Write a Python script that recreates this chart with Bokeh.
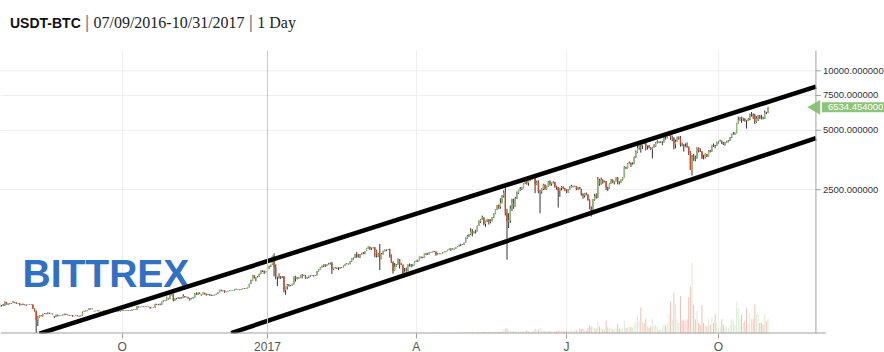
import math
import datetime as dt
from bokeh.plotting import figure
from bokeh.layouts import column
from bokeh.models import (Range1d, LinearScale, FixedTicker, Span, Label, ColumnDataSource, Div)
from bokeh.core.properties import value
from bokeh.embed import file_html
from bokeh.resources import INLINE

# ---------------- data ----------------
START_DATE = "2016-07-09"
FIRST_OPEN = 658.0
LAST_PRICE = 6534.454
# days with no candle in the exchange history (2016 thin market)
SKIPPED_DAYS = ["2016-07-17", "2016-07-24", "2016-08-07", "2016-08-14", "2016-08-21",
                "2016-08-28", "2016-09-04", "2016-09-11", "2016-09-18", "2016-09-25",
                "2016-10-09", "2016-10-30", "2016-11-20", "2016-12-11"]

close_2016_07 = [650.6, 649.4, 647.7, 675.0, 657.1, 660.3, 665.1, 663.3, 679.5, 673.1, 672.9, 665.7,
                 665.6, 650.6, 655.6, 661.3, 654.1, 654.6, 654.5, 655.0, 656.0, 655.1, 624.7]
high_2016_07 = [666, 652, 660, 680, 676, 664, 668, 666, 681, 680, 674, 673, 667, 666, 657, 662, 662,
                657, 657, 656, 657, 657, 656]
low_2016_07 = [633, 640, 645, 645, 656, 652, 658, 660, 661, 668, 666, 662, 661, 649, 650, 654, 653,
               650, 646, 653, 653, 652, 624]

close_2016_08 = [606.3, 547.5, 566.4, 578.3, 575.0, 587.8, 592.7, 591.1, 587.8, 592.1, 589.2, 587.6,
                 585.6, 570.5, 567.2, 581.3, 573.2, 574.3, 575.6, 581.7, 581.3, 586.8, 583.4, 580.2,
                 577.8, 579.7, 569.9, 573.9, 574.1, 577.5, 573.2]
high_2016_08 = [627, 612, 575, 580, 578, 589, 597, 593, 591, 598, 597, 590, 590, 586, 574, 583, 582,
                578, 577, 583, 583, 590, 590, 583, 581, 580, 580, 575, 575, 578, 577]
low_2016_08 = [605, 470, 510, 563, 571, 569, 585, 588, 585, 586, 588, 586, 584, 568, 560, 566, 571,
               573, 573, 575, 580, 579, 582, 580, 575, 577, 569, 568, 572, 573, 572]

close_2016_09 = [572.3, 575.5, 598.2, 608.6, 606.6, 610.4, 614.5, 626.3, 623.0, 623.9, 606.7, 608.2,
                 609.2, 610.7, 607.2, 606.9, 605.6, 611.6, 610.2, 608.7, 597.2, 596.3, 602.8, 602.6,
                 600.8, 608.0, 606.2, 604.7, 605.7, 609.7]
high_2016_09 = [576, 577, 604, 612, 609, 612, 615, 628, 626, 626, 625, 609, 610, 612, 611, 609, 607,
                612, 612, 610, 610, 598, 604, 604, 604, 609, 608, 606, 607, 610]
low_2016_09 = [569, 571, 574, 596, 603, 605, 607, 614, 619, 620, 583, 605, 606, 606, 606, 605, 604,
               605, 608, 605, 590, 593, 596, 601, 600, 600, 604, 603, 603, 604]

close_2016_10 = [613.9, 610.9, 612.1, 610.2, 612.5, 610.2, 616.8, 618.9, 616.8, 618.0, 641.1, 636.2,
                 636.8, 640.4, 638.7, 641.6, 639.2, 637.6, 630.5, 630.9, 632.8, 657.3, 657.1, 653.8,
                 654.5, 677.8, 688.3, 688.7, 714.5, 701.9, 701.0]
high_2016_10 = [615, 614, 613, 613, 614, 613, 619, 621, 620, 620, 644, 641, 639, 641, 641, 642, 642,
                640, 638, 632, 634, 662, 661, 658, 664, 679, 690, 691, 720, 716, 705]
low_2016_10 = [609, 609, 609, 608, 609, 609, 610, 616, 615, 615, 615, 633, 634, 636, 636, 637, 638,
               636, 625, 628, 630, 632, 652, 650, 650, 651, 675, 683, 686, 695, 694]

close_2016_11 = [729.8, 740.8, 688.7, 703.2, 703.7, 711.5, 703.1, 709.9, 723.3, 715.5, 716.4, 705.1,
                 702.0, 705.0, 711.6, 744.2, 740.3, 751.3, 751.6, 731.0, 739.2, 751.3, 741.7, 735.4,
                 740.0, 732.0, 727.0, 732.5, 735.1, 742.5]
high_2016_11 = [736, 743, 744, 706, 707, 714, 712, 714, 740, 722, 718, 717, 706, 707, 716, 748, 756,
                753, 756, 753, 741, 755, 752, 745, 742, 741, 736, 734, 736, 743]
low_2016_11 = [699, 729, 680, 685, 697, 701, 700, 705, 706, 710, 712, 703, 686, 697, 702, 711, 734,
               733, 741, 722, 726, 738, 736, 727, 733, 728, 725, 727, 729, 733]

close_2016_12 = [756.8, 777.9, 771.2, 773.9, 758.7, 764.2, 768.1, 770.8, 772.8, 774.7, 769.7, 780.1,
                 780.6, 781.6, 778.1, 784.9, 790.8, 790.8, 792.7, 800.9, 834.3, 864.5, 922.0, 898.8,
                 896.2, 907.6, 933.2, 975.9, 973.5, 961.2, 963.7]
high_2016_12 = [758, 779, 778, 775, 774, 765, 769, 773, 773, 776, 775, 781, 789, 782, 783, 786, 792,
                794, 793, 802, 835, 875, 925, 922, 900, 914, 941, 976, 977, 972, 965]
low_2016_12 = [742, 757, 764, 765, 752, 757, 762, 766, 768, 771, 765, 769, 778, 776, 776, 777, 783,
               786, 787, 791, 800, 832, 864, 887, 860, 897, 904, 935, 958, 935, 952]

close_2017_01 = [998.3, 1021.8, 1043.8, 1154.7, 1013.4, 902.2, 908.6, 911.2, 902.8, 907.7, 777.8,
                 804.8, 824.0, 818.4, 821.8, 831.5, 907.9, 886.6, 899.7, 895.0, 921.8, 924.7, 921.0,
                 892.7, 901.5, 917.6, 919.8, 921.4, 914.0, 920.2, 970.4]
high_2017_01 = [1001, 1031, 1044, 1159, 1191, 1046, 909, 942, 914, 913, 914, 809, 833, 834, 823, 836,
                909, 917, 905, 900, 927, 936, 928, 925, 903, 918, 922, 923, 920, 923, 970]
low_2017_01 = [956, 991, 1015, 1040, 910, 880, 813, 886, 882, 894, 755, 735, 782, 809, 812, 817, 829,
               857, 880, 886, 893, 888, 919, 885, 885, 892, 908, 915, 908, 914, 919]

close_2017_02 = [989, 1011, 1029, 1046, 1028, 1046, 1054, 1054, 988, 1004, 1007, 999, 996, 1009, 1011,
                 1031, 1052, 1054, 1056, 1087, 1120, 1128, 1179, 1180, 1148, 1176, 1188, 1190]
high_2017_02 = [992, 1013, 1034, 1050, 1047, 1048, 1065, 1070, 1077, 1007, 1016, 1010, 1011, 1015,
                1014, 1034, 1055, 1064, 1057, 1088, 1124, 1134, 1183, 1211, 1179, 1180, 1197, 1210]
low_2017_02 = [963, 985, 1008, 1016, 1016, 1026, 1045, 1044, 936, 979, 999, 994, 981, 995, 1004, 1010,
               1029, 1048, 1044, 1048, 1078, 1105, 1129, 1130, 1134, 1128, 1174, 1178]

close_2017_03 = [1223, 1261, 1286, 1264, 1273, 1276, 1234, 1150, 1192, 1110, 1182, 1225, 1244, 1245,
                 1251, 1173, 1070, 971, 1021, 1042, 1115, 1038, 1044, 936, 964, 966, 1044, 1044, 1040,
                 1037, 1079]
high_2017_03 = [1224, 1263, 1290, 1286, 1276, 1278, 1281, 1242, 1199, 1329, 1193, 1230, 1245, 1246,
                1253, 1256, 1174, 1086, 1064, 1052, 1122, 1115, 1063, 1042, 1003, 1009, 1047, 1058,
                1053, 1049, 1084]
low_2017_03 = [1179, 1222, 1257, 1238, 1238, 1262, 1138, 1135, 1140, 980, 1112, 1172, 1218, 1220, 1240,
               1133, 1066, 940, 970, 1015, 1043, 997, 1037, 932, 900, 961, 966, 1021, 1012, 1022, 1037]

close_2017_04 = [1087, 1099, 1146, 1143, 1134, 1194, 1196, 1181, 1207, 1209, 1223, 1216, 1177, 1181,
                 1186, 1185, 1205, 1211, 1222, 1240, 1256, 1251, 1258, 1257, 1280, 1289, 1317, 1317,
                 1321, 1348]
high_2017_04 = [1097, 1106, 1148, 1148, 1143, 1195, 1197, 1198, 1209, 1212, 1224, 1217, 1216, 1193,
                1194, 1189, 1208, 1215, 1224, 1242, 1259, 1264, 1262, 1261, 1282, 1294, 1317, 1331,
                1323, 1350]
low_2017_04 = [1077, 1075, 1096, 1121, 1124, 1133, 1165, 1170, 1175, 1198, 1204, 1208, 1158, 1172,
               1183, 1178, 1180, 1204, 1206, 1221, 1237, 1225, 1245, 1241, 1253, 1280, 1288, 1295,
               1310, 1315]

close_2017_05 = [1421, 1452, 1490, 1537, 1508, 1535, 1535, 1641, 1727, 1756, 1808, 1676, 1730, 1772,
                 1719, 1739, 1806, 1889, 1987, 2084, 2041, 2150, 2330, 2420, 1900, 1720, 1750, 2000,
                 2150, 2050, 2250]
high_2017_05 = [1434, 1473, 1492, 1597, 1580, 1540, 1567, 1645, 1749, 1772, 1849, 1811, 1742, 1780,
                1772, 1770, 1820, 1900, 1990, 2090, 2106, 2260, 2350, 2480, 2570, 2000, 1900, 2080,
                2250, 2250, 2300]
low_2017_05 = [1348, 1411, 1441, 1475, 1450, 1500, 1500, 1535, 1640, 1700, 1755, 1650, 1623, 1715,
               1665, 1690, 1725, 1795, 1880, 1970, 2000, 2000, 2130, 2280, 1850, 1106, 1600, 1700,
               1950, 2000, 2050]

close_2017_06 = [2400, 2490, 2515, 2550, 2690, 2869, 2700, 2793, 2812, 2907, 2958, 2660, 2720, 2450,
                 2450, 2520, 2650, 2520, 2600, 2740, 2680, 2710, 2730, 2600, 2560, 2470, 2550, 2590,
                 2540, 2480]
high_2017_06 = [2450, 2500, 2580, 2575, 2700, 2900, 2890, 2800, 2830, 2920, 2970, 2980, 2780, 2790,
                2500, 2540, 2680, 2660, 2620, 2770, 2790, 2720, 2760, 2740, 2620, 2580, 2560, 2600,
                2600, 2550]
low_2017_06 = [2250, 2380, 2470, 2490, 2540, 2670, 2650, 2620, 2760, 2810, 2870, 2400, 2640, 2400,
               1900, 2390, 2490, 2500, 2500, 2590, 2620, 2620, 2690, 2560, 2500, 2030, 2300, 2480,
               2520, 2470]

close_2017_07 = [2434, 2507, 2564, 2601, 2601, 2608, 2518, 2571, 2518, 2373, 2337, 2398, 2357, 2233,
                 1998, 1929, 2228, 2318, 2273, 2817, 2667, 2810, 2730, 2754, 2576, 2529, 2671, 2809,
                 2726, 2757, 2875]
high_2017_07 = [2510, 2520, 2600, 2650, 2620, 2620, 2610, 2580, 2580, 2530, 2400, 2410, 2420, 2370,
                2240, 2060, 2240, 2380, 2400, 2900, 2840, 2880, 2820, 2780, 2770, 2590, 2690, 2830,
                2820, 2770, 2890]
low_2017_07 = [2410, 2410, 2500, 2560, 2570, 2590, 2490, 2490, 2510, 2330, 2250, 2280, 2340, 2200,
               1990, 1830, 1930, 2200, 2250, 2270, 2620, 2650, 2680, 2720, 2490, 2460, 2520, 2670,
               2700, 2660, 2750]

close_2017_08 = [2718, 2710, 2804, 2895, 3252, 3213, 3378, 3419, 3342, 3381, 3650, 3884, 4073, 4325,
                 4181, 4376, 4331, 4160, 4193, 4087, 4001, 4100, 4151, 4334, 4371, 4352, 4382, 4382,
                 4579, 4565, 4703]
high_2017_08 = [2900, 2760, 2820, 2900, 3290, 3270, 3400, 3480, 3430, 3440, 3680, 3950, 4200, 4330,
                4430, 4400, 4480, 4370, 4210, 4200, 4100, 4120, 4250, 4360, 4450, 4380, 4410, 4400,
                4620, 4640, 4750]
low_2017_08 = [2660, 2660, 2710, 2780, 2880, 3180, 3200, 3370, 3260, 3330, 3370, 3620, 3850, 3980,
               3850, 4020, 4250, 3950, 3990, 4050, 3970, 3600, 4080, 4120, 4290, 4300, 4320, 4200,
               4330, 4480, 4540]

close_2017_09 = [4892, 4579, 4582, 4236, 4376, 4597, 4599, 4229, 4226, 4122, 4161, 4130, 3882, 3155,
                 3637, 3625, 3582, 4066, 3925, 3905, 3631, 3630, 3792, 3682, 3926, 3892, 4209, 4195,
                 4174, 4339]
high_2017_09 = [4920, 4930, 4700, 4600, 4480, 4640, 4660, 4670, 4330, 4250, 4290, 4340, 4130, 3920,
                3750, 3800, 3720, 4100, 4090, 4050, 3920, 3760, 3820, 3780, 3960, 3980, 4220, 4280,
                4220, 4370]
low_2017_09 = [4690, 4470, 4400, 4000, 4050, 4380, 4480, 4130, 4150, 3900, 4100, 4070, 3750, 3150,
               2950, 3500, 3480, 3580, 3860, 3880, 3580, 3560, 3600, 3660, 3680, 3860, 3890, 4120,
               4050, 4160]

close_2017_10 = [4403, 4409, 4317, 4229, 4328, 4370, 4426, 4611, 4772, 4781, 4826, 5447, 5647, 5831,
                 5678, 5725, 5605, 5590, 5708, 6011, 6031, 5930, 5527, 5750, 5904, 5780, 5753, 5726,
                 6155, 6130, LAST_PRICE]
high_2017_10 = [4420, 4480, 4440, 4360, 4360, 4420, 4460, 4620, 4800, 4900, 4870, 5450, 5860, 5840,
                5860, 5780, 5750, 5620, 5760, 6070, 6180, 6090, 6050, 5890, 5970, 5980, 5990, 5860,
                6300, 6200, 6560]
low_2017_10 = [4280, 4380, 4260, 4210, 4180, 4310, 4340, 4410, 4560, 4740, 4740, 4820, 5400, 5580,
               5450, 5570, 5520, 5100, 5560, 5620, 5860, 5700, 5380, 5450, 5570, 5700, 5670, 5680,
               5700, 6030, 6100]

# volume (million USDT), from 2017-04-01
VOLUME_START = "2017-04-01"
vol_2017_04 = [0.1, 0.1, 0.2, 0.1, 0.1, 0.2, 0.1, 0.1, 0.1, 0.1, 0.2, 0.1, 0.2, 0.1, 0.1, 0.1, 0.1,
               0.1, 0.2, 0.2, 0.2, 0.1, 0.1, 0.1, 0.2, 0.2, 0.3, 0.3, 0.2, 0.2]
vol_2017_05 = [0.3, 0.3, 0.3, 0.4, 0.4, 0.3, 0.3, 0.4, 0.5, 0.4, 0.5, 0.5, 0.4, 0.3, 0.4, 0.3, 0.4,
               0.5, 0.5, 0.5, 0.5, 0.6, 0.8, 0.9, 1.4, 1.5, 1.0, 0.8, 0.7, 0.6, 0.7]
vol_2017_06 = [0.6, 0.5, 0.5, 0.5, 0.6, 0.8, 0.9, 0.7, 0.6, 0.6, 0.7, 1.2, 1.0, 1.2, 1.5, 0.9, 0.8,
               0.7, 0.6, 0.8, 0.8, 0.6, 0.5, 0.6, 0.6, 0.9, 1.0, 0.8, 0.7, 0.6]
vol_2017_07 = [0.8, 0.6, 0.8, 0.9, 0.7, 1.1, 0.9, 0.6, 1.4, 1.2, 1.3, 1.0, 0.8, 1.5, 2.3, 2.0, 1.8,
               1.5, 1.4, 3.7, 2.0, 1.6, 1.2, 1.1, 3.7, 1.8, 1.5, 1.6, 1.2, 1.0, 1.4]
vol_2017_08 = [2.8, 1.4, 1.3, 1.6, 3.7, 1.6, 1.8, 2.0, 1.9, 1.7, 2.5, 3.4, 4.8, 3.6, 7.4, 3.2, 3.0,
               4.2, 2.2, 1.6, 2.0, 4.2, 2.2, 2.4, 1.9, 1.0, 1.1, 1.8, 2.6, 2.2, 2.8]
vol_2017_09 = [5.6, 9.0, 4.0, 11.6, 8.5, 4.0, 3.0, 10.5, 3.5, 4.0, 3.5, 4.0, 10.2, 13.3, 20.1, 8.2,
               4.0, 6.5, 3.0, 2.5, 7.9, 3.0, 2.5, 2.0, 4.2, 2.5, 4.5, 3.0, 5.4, 3.0]
vol_2017_10 = [1.5, 2.0, 4.0, 2.5, 2.0, 1.8, 1.5, 2.5, 4.0, 4.0, 2.5, 9.0, 7.1, 4.0, 5.4, 3.0, 3.5,
               7.1, 3.0, 5.7, 4.2, 4.2, 8.2, 5.4, 5.7, 3.0, 3.0, 2.5, 5.4, 3.4, 4.2]

TICK_DATES = ["2016-10-01", "2017-01-01", "2017-04-01", "2017-07-01", "2017-10-01"]
TICK_LABELS = ["O", "2017", "A", "J", "O"]
PRICE_TICKS = [2500, 5000, 7500, 10000]
PRICE_AXIS_DATE = "2017-11-29"   # where the price scale sits

# hand-drawn channel lines (date, price) pairs
UPPER_LINE_DATES = ["2016-08-04", "2017-11-29"]
UPPER_LINE_PRICES = [467, 8310]
LOWER_LINE_DATES = ["2016-12-09", "2017-11-29"]
LOWER_LINE_PRICES = [470, 4567]

TITLE_SYMBOL = "USDT-BTC"
TITLE_RANGE = "07/09/2016-10/31/2017"
TITLE_INTERVAL = "1 Day"

# ---------------- assemble ----------------
months = ["2016_07", "2016_08", "2016_09", "2016_10", "2016_11", "2016_12", "2017_01", "2017_02",
          "2017_03", "2017_04", "2017_05", "2017_06", "2017_07", "2017_08", "2017_09", "2017_10"]
g = globals()
closes, highs, lows = [], [], []
for m in months:
    closes += g["close_" + m]
    highs += g["high_" + m]
    lows += g["low_" + m]
start = dt.date.fromisoformat(START_DATE)
days = [start + dt.timedelta(days=k) for k in range(len(closes))]
opens = [FIRST_OPEN] + closes[:-1]
skip = set(SKIPPED_DAYS)
rows = [r for r in zip(days, opens, highs, lows, closes) if r[0].isoformat() not in skip]
dates = [r[0] for r in rows]
O = [r[1] for r in rows]
C = [r[4] for r in rows]
H = [max(r[2], r[1], r[4]) for r in rows]
L = [min(r[3], r[1], r[4]) for r in rows]
X = list(range(len(rows)))
date_index = {d.isoformat(): i for i, d in enumerate(dates)}


def to_index(s):
    if s in date_index:
        return date_index[s]
    d = dt.date.fromisoformat(s)
    return len(dates) - 1 + (d - dates[-1]).days


UP = "#8cc173"
DOWN = "#d9431f"
up_flags = [c >= o for o, c in zip(O, C)]
src = ColumnDataSource(dict(
    x=X, high=H, low=L,
    top=[max(o, c) for o, c in zip(O, C)],
    bottom=[min(o, c) for o, c in zip(O, C)],
    color=[UP if u else DOWN for u in up_flags],
))

vols = vol_2017_04 + vol_2017_05 + vol_2017_06 + vol_2017_07 + vol_2017_08 + vol_2017_09 + vol_2017_10
v0 = to_index(VOLUME_START)
vx = [v0 + k for k in range(len(vols))]
vsrc = ColumnDataSource(dict(
    x=vx, top=vols,
    color=["#dcebd3" if up_flags[i] else "#f1bfb4" for i in vx],
))

# ---------------- figure ----------------
FRAME_W, FRAME_H = 884, 283
X_START, PX_PER_CANDLE = 0.4, 1.652
Y_MIN, Y_MAX = 467.8, 12667
axis_x = to_index(PRICE_AXIS_DATE)

p = figure(frame_width=FRAME_W, frame_height=FRAME_H,
           x_range=Range1d(X_START, X_START + FRAME_W / PX_PER_CANDLE),
           y_range=Range1d(Y_MIN, Y_MAX),
           y_axis_type="log", y_axis_location=None,
           toolbar_location=None, output_backend="svg", title=None,
           min_border=0, background_fill_color="white", border_fill_color="white")
p.outline_line_color = None
p.extra_y_ranges = {"vol": Range1d(0, 80)}
p.extra_y_scales = {"vol": LinearScale()}

tick_idx = [to_index(d) for d in TICK_DATES]
p.xaxis.ticker = FixedTicker(ticks=tick_idx)
p.xaxis.major_label_overrides = {i: lab for i, lab in zip(tick_idx, TICK_LABELS)}
p.xaxis.axis_line_color = None
p.xaxis.major_tick_line_color = "#a0a0a0"
p.xaxis.major_tick_out = 5
p.xaxis.major_tick_in = 0
p.xaxis.minor_tick_line_color = None
p.xaxis.major_label_text_font = "Liberation Sans"
p.xaxis.major_label_text_font_size = "12px"
p.xaxis.major_label_text_color = "#555555"
p.xaxis.major_label_standoff = 1

p.xgrid.grid_line_color = "#eeeeee"
for gr in p.ygrid:
    gr.visible = False

# horizontal price grid (stops at the price scale)
p.segment(x0=X_START, x1=axis_x, y0=PRICE_TICKS, y1=PRICE_TICKS, line_color="#eeeeee", line_width=1)
p.add_layout(Span(location=to_index("2017-01-01"), dimension="height",
                  line_color="#c8c8c8", line_width=1))

# logo (behind the data)
p.add_layout(Label(x=22, y=39, x_units="screen", y_units="screen", text="BITTREX",
                   text_font="Liberation Sans", text_font_style="bold", text_font_size="39px",
                   text_color="#3170c2", level="underlay"))

# volume
p.vbar(x="x", top="top", bottom=0, width=0.6, source=vsrc, y_range_name="vol",
       fill_color="color", line_color=None)

# candles
p.segment(x0="x", y0="low", x1="x", y1="high", source=src, line_color="#333333", line_width=1)
p.vbar(x="x", width=0.8, top="top", bottom="bottom", source=src,
       fill_color="color", line_color=None)

# channel lines
p.line([to_index(d) for d in UPPER_LINE_DATES], UPPER_LINE_PRICES, line_color="black",
       line_width=4.5)
p.line([to_index(d) for d in LOWER_LINE_DATES], LOWER_LINE_PRICES, line_color="black",
       line_width=4.5)

# bottom axis line and right price scale
p.segment(x0=X_START, x1=axis_x + 6, y0=Y_MIN, y1=Y_MIN, line_color="#a0a0a0", line_width=2)
p.add_layout(Span(location=axis_x, dimension="height", line_color="#a0a0a0", line_width=1))
p.ray(x=[axis_x] * len(PRICE_TICKS), y=PRICE_TICKS, length=5, length_units="screen", angle=0,
      line_color="#a0a0a0", line_width=1)
p.text(x=[axis_x] * len(PRICE_TICKS), y=PRICE_TICKS, text=["%.6f" % t for t in PRICE_TICKS],
       x_offset=7, text_baseline="middle", text_align="left",
       text_font=value("Liberation Sans"), text_font_size=value("9.5px"), text_color="#333333")

# last-price flag
FLAG = "#8dc47a"
p.scatter(x=[axis_x], y=[LAST_PRICE], marker="triangle", size=15, angle=math.pi / 2,
          fill_color=FLAG, line_color=None)
p.add_layout(Label(x=axis_x, y=LAST_PRICE, x_offset=6, text="%.6f" % LAST_PRICE,
                   text_baseline="middle", text_align="left", text_color="white",
                   text_font="Liberation Sans", text_font_size="9.5px",
                   background_fill_color=FLAG, background_fill_alpha=1.0,
                   padding=dict(left=6, right=12, top=2, bottom=2)))

title_html = (
    '<div style="position:relative;width:884px;height:50px;">'
    '<div style="position:absolute;left:10px;top:14px;white-space:nowrap;line-height:16px;">'
    '<span style="font-family:\'Liberation Sans\';font-weight:bold;font-size:14px;color:#111;">'
    + TITLE_SYMBOL + '</span>'
    '<span style="font-family:\'Liberation Sans\';font-size:18px;color:#888;margin:0 4px 0 4px;">|</span>'
    '<span style="font-family:\'Liberation Serif\';font-size:16px;color:#222;">' + TITLE_RANGE + '</span>'
    '<span style="font-family:\'Liberation Sans\';font-size:18px;color:#888;margin:0 4px 0 4px;">|</span>'
    '<span style="font-family:\'Liberation Serif\';font-size:16px;color:#222;">' + TITLE_INTERVAL + '</span>'
    '</div></div>'
)
title = Div(text=title_html, width=884, height=50, margin=0)
layout = column(title, p, spacing=0, margin=0)

open("out.html", "w").write(file_html(layout, INLINE))
